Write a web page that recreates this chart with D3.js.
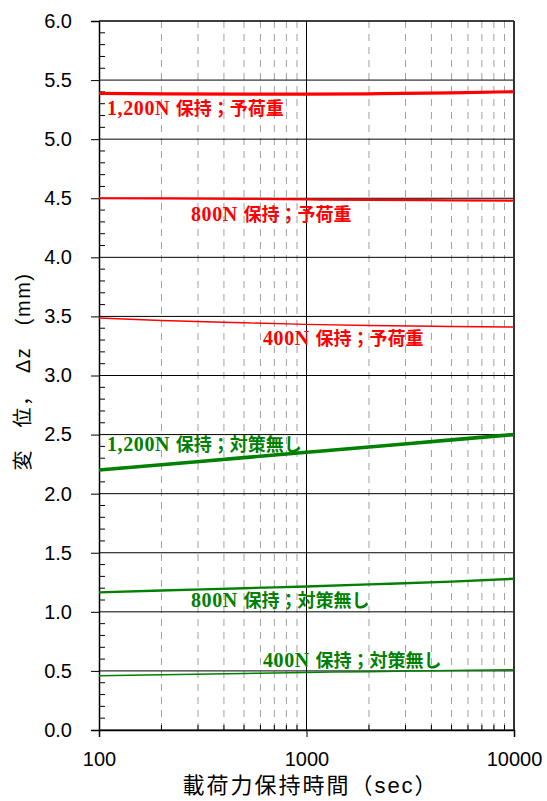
<!DOCTYPE html>
<html><head><meta charset="utf-8">
<script src="https://cdn.jsdelivr.net/npm/d3@7"></script>
<style>body{margin:0;background:#fff}svg{display:block}</style>
</head><body>
<script>
const times = [100, 200, 500, 1000, 2000, 5000, 10000];
const red1200 = [5.388, 5.384, 5.381, 5.381, 5.384, 5.391, 5.402];
const red800 = [4.500, 4.499, 4.495, 4.490, 4.486, 4.482, 4.479];
const red400 = [3.487, 3.466, 3.446, 3.433, 3.423, 3.415, 3.410];
const green1200 = [2.200, 2.245, 2.305, 2.350, 2.395, 2.455, 2.500];
const green800 = [1.165, 1.180, 1.200, 1.215, 1.232, 1.256, 1.280];
const green400 = [0.460, 0.468, 0.478, 0.487, 0.494, 0.503, 0.510];
const loadLabels = ["1,200N","800N","400N","1,200N","800N","400N"];
const condLabels = ["保持；予荷重","保持；予荷重","保持；予荷重","保持；対策無し","保持；対策無し","保持；対策無し"];
const yTicks = [0,0.5,1,1.5,2,2.5,3,3.5,4,4.5,5,5.5,6];
const xTicks = [100,1000,10000];
const xMinor = [200,300,400,500,600,700,800,900,2000,3000,4000,5000,6000,7000,8000,9000];

const W=547,H=801;
const svg=d3.select("body").append("svg").attr("width",W).attr("height",H);
const L=99,R=514,T=21,B=730;
const x=d3.scaleLog().domain([100,10000]).range([L,R]);
const y=d3.scaleLinear().domain([0,6]).range([B,T]);

svg.append("g").selectAll("line").data(xMinor).join("line")
 .attr("x1",d=>x(d)).attr("x2",d=>x(d)).attr("y1",T).attr("y2",B)
 .attr("stroke","#a0a0a0").attr("stroke-width",1).attr("stroke-dasharray","7,6");
svg.append("g").selectAll("line").data(yTicks).join("line")
 .attr("x1",L).attr("x2",R).attr("y1",d=>y(d)).attr("y2",d=>y(d))
 .attr("stroke","#000").attr("stroke-width",1);
svg.append("line").attr("x1",x(1000)).attr("x2",x(1000)).attr("y1",T).attr("y2",B).attr("stroke","#000");
svg.append("line").attr("x1",R).attr("x2",R).attr("y1",T).attr("y2",B).attr("stroke","#333").attr("stroke-width",2);

const yAxis=svg.append("g").attr("transform",`translate(${L},0)`)
 .call(d3.axisLeft(y).tickValues(yTicks).tickFormat(d3.format(".1f")).tickSize(8).tickPadding(19));
yAxis.select(".domain").attr("stroke-width",1.5);
yAxis.selectAll("text").attr("font-family","Liberation Sans, Arial, sans-serif").attr("font-size",20).attr("fill","#000");
const yMinor=d3.range(0,61).map(i=>i/10).filter(v=>Math.abs(v*2-Math.round(v*2))>1e-6);
svg.append("g").selectAll("line").data(yMinor).join("line")
 .attr("x1",L).attr("x2",L+6).attr("y1",d=>y(d)).attr("y2",d=>y(d)).attr("stroke","#000");

const xAxis=svg.append("g").attr("transform",`translate(0,${B})`)
 .call(d3.axisBottom(x).tickValues(xTicks).tickFormat(d3.format("d")).tickSize(7).tickPadding(15));
xAxis.select(".domain").attr("stroke-width",1.5);
xAxis.selectAll("text").attr("font-family","Liberation Sans, Arial, sans-serif").attr("font-size",20).attr("fill","#000");
svg.append("g").selectAll("line").data(xMinor).join("line")
 .attr("x1",d=>x(d)).attr("x2",d=>x(d)).attr("y1",B).attr("y2",B-5).attr("stroke","#000");
svg.append("line").attr("x1",L).attr("x2",R).attr("y1",T).attr("y2",T).attr("stroke","#000");

const series=[
 {v:red1200,c:"#ff0000",w:3.2},
 {v:red800,c:"#ff0000",w:2.2},
 {v:red400,c:"#ff0000",w:1.4},
 {v:green1200,c:"#008000",w:3.6},
 {v:green800,c:"#008000",w:2.4},
 {v:green400,c:"#008000",w:1.5}];
const line=d3.line().x((d,i)=>x(times[i])).y(d=>y(d)).curve(d3.curveMonotoneX);
svg.append("g").selectAll("path").data(series).join("path")
 .attr("d",d=>line(d.v)).attr("fill","none").attr("stroke",d=>d.c).attr("stroke-width",d=>d.w);

const labelPos=[[107,115],[191,221],[263,345],[107,451],[191,607],[263,667]];
const lab=svg.append("g").selectAll("text").data(loadLabels).join("text")
 .attr("x",(d,i)=>labelPos[i][0]).attr("y",(d,i)=>labelPos[i][1])
 .attr("fill",(d,i)=>series[i].c).attr("font-weight","bold").attr("xml:space","preserve");
lab.append("tspan").attr("font-family","Liberation Serif, 'Times New Roman', serif")
 .attr("font-size",20).attr("letter-spacing",0.6).text(d=>d+" ");
lab.append("tspan").attr("font-family","'Noto Sans CJK JP', sans-serif")
 .attr("font-size",18).text((d,i)=>condLabels[i]);

svg.append("text").attr("x",(L+R)/2+4).attr("y",793).attr("text-anchor","middle")
 .attr("font-family","Liberation Sans, 'Noto Sans CJK JP', sans-serif").attr("font-size",22).attr("letter-spacing",2)
 .text("載荷力保持時間（sec）");
svg.append("text").attr("transform",`translate(30,${(T+B)/2-4}) rotate(-90)`).attr("text-anchor","middle")
 .attr("font-family","Liberation Sans, 'Noto Sans CJK JP', sans-serif").attr("font-size",20).attr("letter-spacing",1.5)
 .attr("xml:space","preserve").text("変　位，　Δz　(mm)");
</script>
</body></html>
